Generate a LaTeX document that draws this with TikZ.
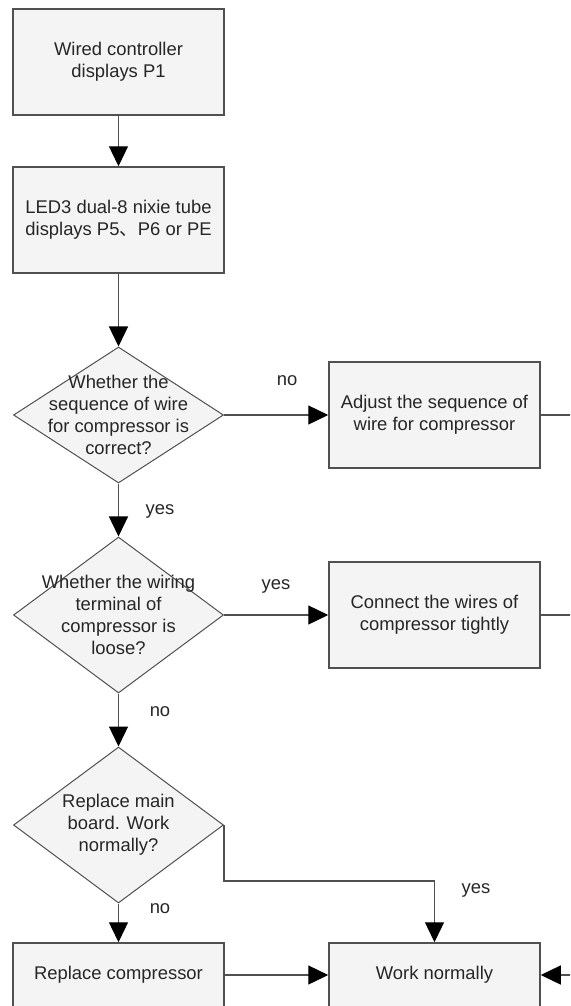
\documentclass[tikz,border=0pt]{standalone}
\usepackage{fontspec}
\setmainfont{Liberation Sans}
\newfontfamily\cjk{Noto Sans CJK SC}
\usepackage{xcolor}
\usepackage{tikz}
\usetikzlibrary{arrows.meta, positioning, shapes.geometric}
\definecolor{boxfill}{HTML}{F4F4F4}
\definecolor{boxline}{HTML}{505050}
\definecolor{txt}{HTML}{262626}

\begin{document}
\begin{tikzpicture}[x=1pt, y=-1pt,
    font=\fontsize{18.4}{22}\selectfont, text=txt,
    box/.style={rectangle, draw=boxline, fill=boxfill, line width=1.5pt,
      minimum width=211pt, minimum height=106pt, align=center, inner sep=0pt},
    decision/.style={diamond, draw=boxline, fill=boxfill, line width=1pt,
      minimum width=210pt, minimum height=156pt, inner sep=0pt},
    arrow/.style={draw=boxline, line width=1.3pt,
      -{Triangle[length=20pt, width=19pt, color=black]}},
    wire/.style={draw=boxline, line width=1.3pt}]
          \useasboundingbox (0,0) rectangle (570,1006);
          \clip (0,0) rectangle (570,1006);

          \node[box] (wired) at (118.5,62) {Wired controller\\displays P1};
          \node[box] (led) at (118.5,220) {LED3 dual-8 nixie tube\\displays P5{\cjk 、}P6 or PE};
          \node[decision, minimum height=136pt,
            label={[align=center]center:{Whether the\\sequence of wire\\for compressor is\\correct?}}] (seq) at (118.5,415) {};
          \node[box] (adjust) at (434.5,415) {Adjust the sequence of\\wire for compressor};
          \node[decision,
            label={[align=center]center:{Whether the wiring\\terminal of\\compressor is\\loose?}}] (term) at (118.5,615) {};
          \node[box] (connect) at (434.5,615) {Connect the wires of\\compressor tightly};
          \node[decision,
            label={[align=center]center:{Replace main\\board. Work\\normally?}}] (board) at (118.5,825) {};
          \node[box, minimum height=64pt] (comp) at (118.5,975) {Replace compressor};
          \node[box, minimum height=64pt] (work) at (434.5,975) {Work normally};
          \coordinate (bend) at (434.5,881);

          \node (no1) at (287,381) {no};
          \node (yes1) at (160,511) {yes};
          \node (yes2) at (276,586) {yes};
          \node (no2) at (160,712) {no};
          \node (no3) at (160,909) {no};
          \node (yes3) at (476,890) {yes};

          \draw[arrow] (wired) -- (led);
          \draw[arrow] (led) -- (seq);
          \draw[arrow] (seq) -- (adjust);
          \draw[arrow] (seq) -- (term);
          \draw[arrow] (term) -- (connect);
          \draw[arrow] (term) -- (board);
          \draw[arrow] (board) -- (comp);
          \draw[arrow] (board.east) |- (bend) -- (work.north);
          \draw[arrow] (comp) -- (work);
          \draw[arrow] (adjust.east) -- ++(50,0) |- (work.east);
          \draw[wire] (connect.east) -- ++(50,0);
        \end{tikzpicture}
\end{document}
